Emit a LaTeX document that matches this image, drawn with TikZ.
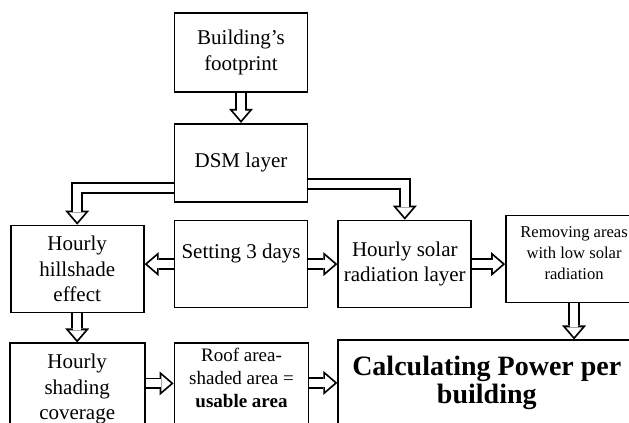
\documentclass[tikz,border=0pt]{standalone}
\usepackage{fontspec}
\setmainfont{Liberation Serif}
\usetikzlibrary{arrows.meta, positioning, backgrounds}

\begin{document}
\begin{tikzpicture}[
  every node/.style={font=\fontsize{10.5}{12.75}\selectfont},
  box/.style={rectangle, draw, line width=0.9pt, minimum width=66.5pt, minimum height=43.5pt, align=center, inner sep=2pt},
  hollow/.style={draw=white, line width=4pt, shorten >=1.38pt, -{Triangle[length=4.72pt, width=8.1pt, line width=0pt]},
    preaction={draw=black, line width=5.8pt, shorten >=0pt, -{Triangle[length=7pt, width=12pt, line width=0pt]}}},
]
\path[use as bounding box, clip] (0pt,0pt) rectangle (314.5pt,-211.5pt);

\node[box, minimum height=39.5pt] (foot) at (120.5pt,-26.25pt) {Building's\\footprint};
\node[box, minimum height=39pt, below=15pt of foot] (dsm) {DSM layer};
\node[box, below=8.5pt of dsm, text height=8pt, text depth=14pt] (days) {Setting 3 days};
\node[box, left=14.5pt of days, yshift=-2.5pt] (hill) {Hourly\\hillshade\\effect};
\node[box, right=14.5pt of days] (solar) {Hourly solar\\radiation layer};
\node[box, right=16.5pt of solar, minimum width=68pt, yshift=2.5pt, text depth=6pt, font=\fontsize{8.3}{10.5}\selectfont] (remove) {Removing areas\\with low solar\\radiation};
\node[box, below=14.5pt of hill, minimum width=67.5pt, minimum height=46pt] (shade) {Hourly\\shading\\coverage};
\node[box, right=14pt of shade, minimum width=67pt, minimum height=46pt, text depth=11.5pt, font=\fontsize{9.5}{11.5}\selectfont] (roof) {Roof area-\\shaded area =\\\textbf{usable area}};
\node[box, right=14pt of roof.north east, anchor=north west, yshift=1.5pt, minimum width=148.5pt, minimum height=42.5pt, font=\fontsize{14}{14}\selectfont\bfseries] (calc) {Calculating Power per\\building};

\begin{scope}[on background layer]
\draw[hollow] (foot) -- (dsm);
\draw[hollow] ([yshift=-12.75pt]dsm.west) -| (hill);
\draw[hollow] ([yshift=-10.5pt]dsm.east) -| (solar);
\draw[hollow] (days.west) -- (hill.east |- days.west);
\draw[hollow] (days.east) -- (solar.west |- days.east);
\draw[hollow] (solar.east) -- (remove.west |- solar.east);
\draw[hollow] (hill) -- (shade);
\draw[hollow] ([yshift=3pt]shade.east) -- ([yshift=3pt]roof.west);
\draw[hollow] (roof.east |- calc.west) -- (calc.west);
\draw[hollow] (remove.south) -- (remove.south |- calc.north);
\end{scope}
\end{tikzpicture}
\end{document}
